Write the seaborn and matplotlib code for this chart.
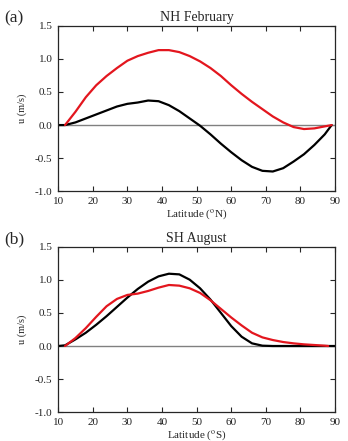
import matplotlib
matplotlib.use("Agg")
import matplotlib.pyplot as plt
import seaborn as sns

# NH February
nh_lat = [10, 12, 15, 18, 21, 24, 27, 30, 33, 36, 39, 42, 45, 48, 51, 54, 57,
          60, 63, 66, 69, 72, 75, 78, 81, 84, 87, 89]
nh_black = [0.0, 0.0, 0.04, 0.10, 0.16, 0.22, 0.28, 0.32, 0.34, 0.37, 0.36, 0.30,
            0.21, 0.10, -0.01, -0.14, -0.28, -0.41, -0.53, -0.63, -0.69, -0.70,
            -0.65, -0.55, -0.44, -0.30, -0.14, 0.0]
nh_red_lat = nh_lat[1:]
nh_red = [0.0, 0.2, 0.42, 0.60, 0.74, 0.86, 0.97, 1.04, 1.09, 1.13, 1.13, 1.10,
          1.04, 0.96, 0.86, 0.74, 0.60, 0.47, 0.35, 0.24, 0.13, 0.04, -0.03,
          -0.06, -0.05, -0.02, 0.0]

# SH August
sh_lat = [10, 12, 15, 18, 21, 24, 27, 30, 33, 36, 39, 42, 45, 48, 51, 54, 57,
          60, 63, 66, 69, 72, 75, 78, 81, 84, 87, 90]
sh_black = [0.0, 0.01, 0.10, 0.20, 0.32, 0.45, 0.59, 0.73, 0.86, 0.97, 1.05, 1.09,
            1.08, 1.00, 0.87, 0.70, 0.50, 0.30, 0.14, 0.04, 0.005, 0.0, 0.0, 0.0,
            0.0, 0.0, 0.0, 0.0]
sh_red_lat = sh_lat[1:-1] + [88]
sh_red = [0.0, 0.12, 0.27, 0.44, 0.60, 0.71, 0.77, 0.79, 0.83, 0.88, 0.92, 0.91,
          0.87, 0.80, 0.69, 0.56, 0.43, 0.31, 0.20, 0.13, 0.09, 0.06, 0.04,
          0.025, 0.015, 0.005, 0.0]

sns.set_style("ticks")
plt.rcParams['font.family'] = ['Liberation Serif', 'DejaVu Serif']
plt.rcParams['mathtext.fontset'] = 'stix'

fig = plt.figure(figsize=(3.48, 4.41), dpi=100)
ax1 = fig.add_axes([0.167, 0.566, 0.796, 0.376])
ax2 = fig.add_axes([0.167, 0.065, 0.796, 0.376])

panels = [
    (ax1, nh_lat, nh_black, nh_red_lat, nh_red, 'NH February', 'N'),
    (ax2, sh_lat, sh_black, sh_red_lat, sh_red, 'SH August', 'S'),
]

for ax, lat, blk, rlat, red, title, hemi in panels:
    ax.axhline(0, color='#808080', lw=1.0, zorder=1)
    sns.lineplot(x=lat, y=blk, ax=ax, color='black', lw=1.6, sort=False, estimator=None)
    sns.lineplot(x=rlat, y=red, ax=ax, color='#e3161e', lw=1.6, sort=False, estimator=None)
    ax.set_xlim(10, 90)
    ax.set_ylim(-1.0, 1.5)
    ax.set_xticks(range(10, 91, 10))
    ax.set_yticks([-1.0, -0.5, 0.0, 0.5, 1.0, 1.5])
    ax.set_yticklabels(['-1.0', '-0.5', '0.0', '0.5', '1.0', '1.5'])
    ax.tick_params(direction='in', top=True, right=True, length=3.5, width=0.8,
                   labelsize=8, pad=4, labelcolor='#222222')
    for s in ax.spines.values():
        s.set_linewidth(0.9)
    ax.set_title(title, fontsize=10, pad=3)
    ax.set_xlabel(r'Latitude ($^{\rm o}$' + hemi + ')', fontsize=8, labelpad=1)
    ax.set_ylabel('u (m/s)', fontsize=7.5, labelpad=6)

fig.text(0.012, 0.958, '(a)', fontsize=12.5, va='center')
fig.text(0.012, 0.458, '(b)', fontsize=12.5, va='center')

fig.savefig('out.png', dpi=100)
